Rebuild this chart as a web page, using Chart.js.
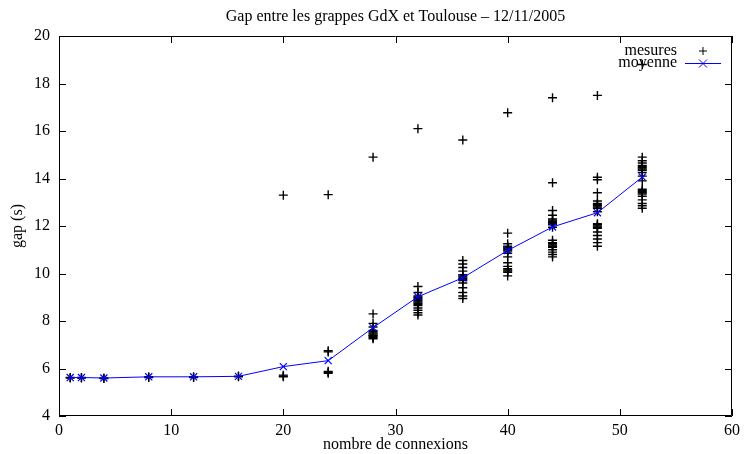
<!DOCTYPE html>
<html>
<head>
<meta charset="utf-8">
<script src="https://cdn.jsdelivr.net/npm/chart.js@4/dist/chart.umd.min.js"></script>
<style>
  body { margin: 0; background: #fff; }
  #wrap { width: 745px; height: 454px; }
</style>
</head>
<body>
<div id="wrap"><canvas id="gapChart" width="745" height="454"></canvas></div>
<script>
// data
const chartTitle = "Gap entre les grappes GdX et Toulouse \u2013 12/11/2005";
const xLabel = "nombre de connexions";
const yLabel = "gap (s)";

const connexions = [1, 2, 4, 8, 12, 16, 20, 24, 28, 32, 36, 40, 44, 48, 52];
const moyenne = [5.62, 5.62, 5.6, 5.65, 5.65, 5.67, 6.08, 6.33, 7.72, 9.02, 9.82, 10.97, 11.96, 12.56, 14.06];

// one list of measures per number of connections
const mesures = [
    [5.62, 5.6],
    [5.62, 5.6],
    [5.6, 5.58],
    [5.65, 5.62],
    [5.65, 5.62],
    [5.68, 5.65],
    [13.3, 5.72, 5.68, 5.65],
    [13.32, 6.75, 6.7, 5.88, 5.84, 5.8],
    [14.9, 8.3, 7.9, 7.75, 7.6, 7.55, 7.5, 7.45, 7.4, 7.38, 7.35, 7.3, 7.25],
    [16.1, 9.45, 9.2, 9.05, 9.0, 8.95, 8.9, 8.85, 8.8, 8.75, 8.7, 8.65, 8.55, 8.45, 8.35, 8.25],
    [15.62, 10.55, 10.4, 10.25, 10.1, 9.95, 9.9, 9.85, 9.8, 9.75, 9.7, 9.6, 9.4, 9.2, 9.05, 8.95],
    [16.77, 11.7, 11.25, 11.15, 11.1, 11.05, 11.0, 10.95, 10.85, 10.7, 10.45, 10.3, 10.2, 10.15, 10.1, 10.05, 9.9],
    [17.4, 13.82, 12.65, 12.45, 12.3, 12.25, 12.2, 12.15, 12.1, 12.05, 11.95, 11.4, 11.3, 11.25, 11.2, 11.15, 11.1, 11.0, 10.9, 10.8, 10.7],
    [17.5, 14.05, 13.95, 13.4, 13.05, 12.95, 12.9, 12.85, 12.8, 12.75, 12.6, 12.1, 12.05, 12.0, 11.95, 11.9, 11.75, 11.6, 11.45, 11.3, 11.15],
    [18.8, 14.9, 14.75, 14.65, 14.55, 14.5, 14.45, 14.4, 14.35, 14.25, 14.1, 13.9, 13.55, 13.5, 13.45, 13.4, 13.35, 13.25, 13.1, 12.95, 12.85, 12.75]
];

const xTicks = [0, 10, 20, 30, 40, 50, 60];
const yTicks = [4, 6, 8, 10, 12, 14, 16, 18, 20];

const FONT = "Liberation Serif, Times New Roman, serif";

const mesurePoints = [];
connexions.forEach((n, i) => {
    mesures[i].forEach(v => mesurePoints.push({ x: n, y: v }));
});
const moyennePoints = connexions.map((n, i) => ({ x: n, y: moyenne[i] }));

// frame, inner ticks on all sides, title and gnuplot-like key
const gnuplotFrame = {
    id: "gnuplotFrame",
    afterDraw(chart) {
        const { ctx, chartArea: a } = chart;
        const xs = chart.scales.x, ys = chart.scales.y;
        const tl = 7;
        ctx.save();
        ctx.strokeStyle = "#000";
        ctx.lineWidth = 1;
        ctx.beginPath();
        ctx.rect(a.left + 0.5, a.top + 0.5, a.right - a.left - 1, a.bottom - a.top - 1);
        xTicks.forEach(t => {
            const px = Math.round(xs.getPixelForValue(t)) + 0.5;
            ctx.moveTo(px, a.bottom); ctx.lineTo(px, a.bottom - tl);
            ctx.moveTo(px, a.top); ctx.lineTo(px, a.top + tl);
        });
        yTicks.forEach(t => {
            const py = Math.round(ys.getPixelForValue(t)) + 0.5;
            ctx.moveTo(a.left, py); ctx.lineTo(a.left + tl, py);
            ctx.moveTo(a.right, py); ctx.lineTo(a.right - tl, py);
        });
        ctx.stroke();

        ctx.fillStyle = "#000";
        ctx.font = "16px " + FONT;
        ctx.textAlign = "center";
        ctx.textBaseline = "middle";
        ctx.fillText(chartTitle, (a.left + a.right) / 2, 17);

        // key
        const keyTextX = 677, keySampleX = 703;
        ctx.textAlign = "right";
        ctx.fillText("mesures", keyTextX, 51);
        ctx.fillText("moyenne", keyTextX, 63);
        ctx.beginPath();
        ctx.moveTo(keySampleX - 4, 51); ctx.lineTo(keySampleX + 4, 51);
        ctx.moveTo(keySampleX, 47); ctx.lineTo(keySampleX, 55);
        ctx.stroke();
        ctx.strokeStyle = "#0000ff";
        ctx.beginPath();
        ctx.moveTo(685, 63.5); ctx.lineTo(721, 63.5);
        ctx.moveTo(keySampleX - 4, 59.5); ctx.lineTo(keySampleX + 4, 67.5);
        ctx.moveTo(keySampleX - 4, 67.5); ctx.lineTo(keySampleX + 4, 59.5);
        ctx.stroke();
        ctx.restore();
    }
};

const ctx = document.getElementById("gapChart").getContext("2d");
const gapChart = new Chart(ctx, {
    type: "scatter",
    data: {
        datasets: [
            {
                label: "moyenne",
                data: moyennePoints,
                showLine: true,
                borderColor: "#0000ff",
                backgroundColor: "#0000ff",
                borderWidth: 1,
                pointStyle: "crossRot",
                pointRadius: 5,
                pointBorderWidth: 1.2,
                order: 0
            },
            {
                label: "mesures",
                data: mesurePoints,
                showLine: false,
                borderColor: "#000",
                backgroundColor: "#000",
                pointStyle: "cross",
                pointRadius: 4.5,
                pointBorderWidth: 1.4,
                order: 1
            }
        ]
    },
    options: {
        responsive: false,
        animation: false,
        layout: { padding: { top: 36, right: 8, left: 0, bottom: 0 } },
        scales: {
            x: {
                type: "linear",
                min: 0,
                max: 60,
                afterFit: s => { s.height = 38; },
                afterBuildTicks: s => { s.ticks = xTicks.map(v => ({ value: v })); },
                grid: { display: false, drawTicks: false },
                border: { display: false },
                ticks: { padding: 5, color: "#000", font: { family: FONT, size: 16 } },
                title: {
                    display: true, text: xLabel, color: "#000",
                    font: { family: FONT, size: 16 },
                    padding: { top: 0, bottom: 0 }
                }
            },
            y: {
                type: "linear",
                min: 4,
                max: 20,
                afterFit: s => { s.width = 59; },
                afterBuildTicks: s => { s.ticks = yTicks.map(v => ({ value: v })); },
                grid: { display: false, drawTicks: false },
                border: { display: false },
                ticks: { padding: 9, color: "#000", font: { family: FONT, size: 16 } },
                title: {
                    display: true, text: yLabel, color: "#000",
                    font: { family: FONT, size: 16 },
                    padding: { top: 8.4, bottom: 0 }
                }
            }
        },
        plugins: {
            legend: { display: false },
            tooltip: { enabled: false }
        }
    },
    plugins: [gnuplotFrame]
});
</script>
</body>
</html>
